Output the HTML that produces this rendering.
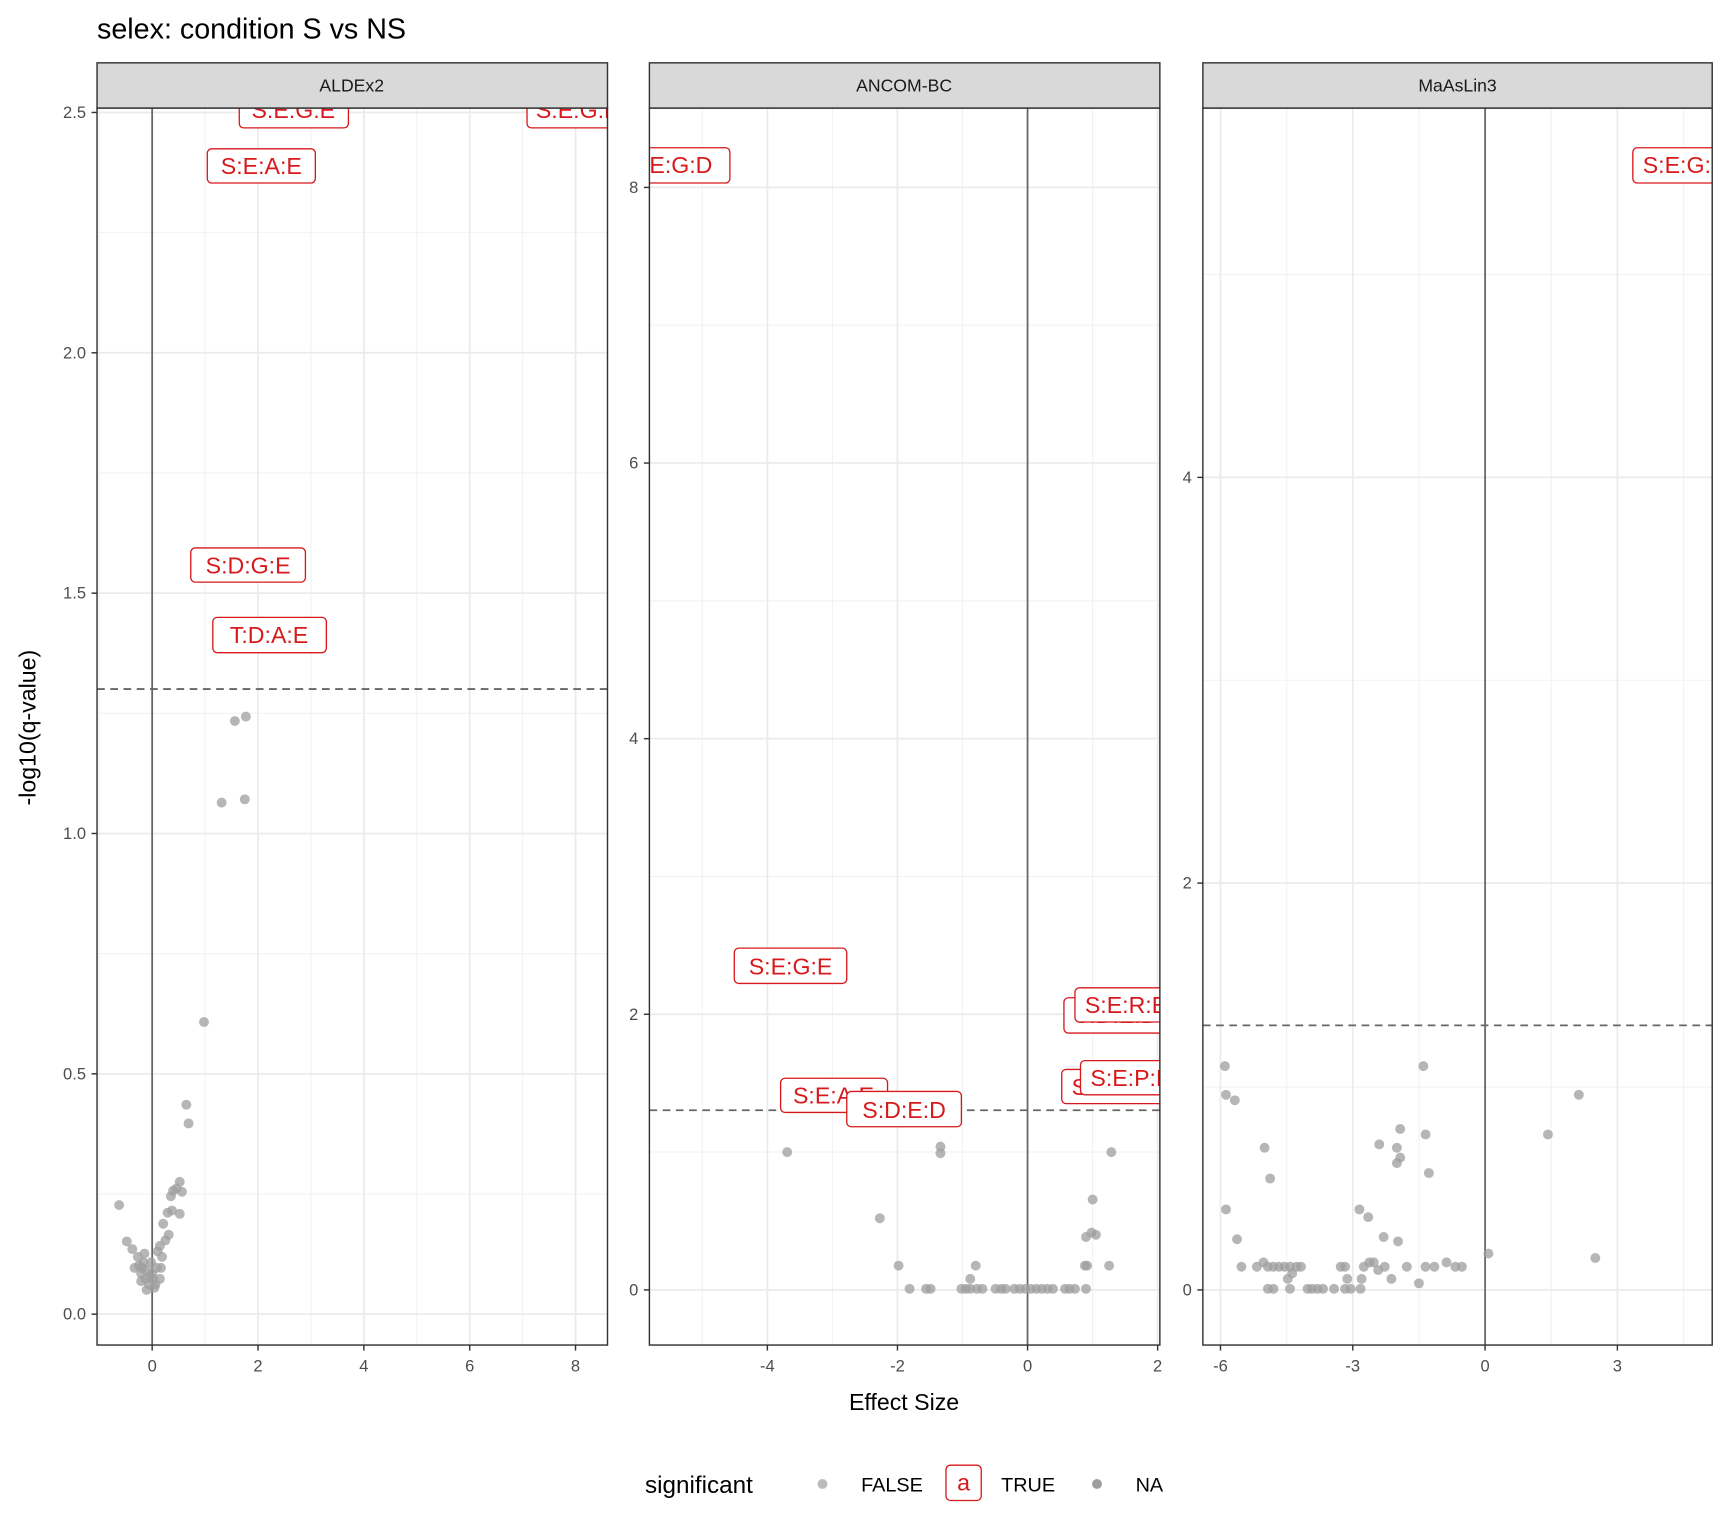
<!DOCTYPE html>
<html><head><meta charset="utf-8"><style>
html,body{margin:0;padding:0;background:#fff;}
svg{display:block;}
text{font-family:"Liberation Sans","DejaVu Sans",sans-serif;}
.tk{font-size:15px;fill:#4d4d4d;}
.lab rect{fill:#fff;stroke:#d7191c;stroke-width:1.2;}
.lab text{fill:#d7191c;font-size:21px;}
.g{stroke:#ebebeb;stroke-width:1.6;}
.gm{stroke:#f2f2f2;stroke-width:1;}
.p circle{fill:#9e9e9e;fill-opacity:0.75;}
</style></head><body>
<svg width="1728" height="1536" viewBox="0 0 1567.3 1393.2" xmlns="http://www.w3.org/2000/svg">
<defs>
<clipPath id="c1"><rect x="88" y="98" width="463" height="1122"/></clipPath>
<clipPath id="c2"><rect x="589" y="98" width="463" height="1122"/></clipPath>
<clipPath id="c3"><rect x="1091" y="98" width="462" height="1122"/></clipPath>
</defs>
<text x="88" y="35" font-size="26" fill="#000">selex: condition S vs NS</text>

<!-- Panel 1 -->
<g clip-path="url(#c1)">
<g class="gm">
<line x1="88" x2="551" y1="1083" y2="1083"/><line x1="88" x2="551" y1="865" y2="865"/><line x1="88" x2="551" y1="647" y2="647"/><line x1="88" x2="551" y1="429" y2="429"/><line x1="88" x2="551" y1="211" y2="211"/>
<line y1="98" y2="1220" x1="90" x2="90"/><line y1="98" y2="1220" x1="186" x2="186"/><line y1="98" y2="1220" x1="282" x2="282"/><line y1="98" y2="1220" x1="378" x2="378"/><line y1="98" y2="1220" x1="474" x2="474"/>
</g>
<g class="g">
<line x1="88" x2="551" y1="1192" y2="1192"/><line x1="88" x2="551" y1="974" y2="974"/><line x1="88" x2="551" y1="756" y2="756"/><line x1="88" x2="551" y1="538" y2="538"/><line x1="88" x2="551" y1="320" y2="320"/><line x1="88" x2="551" y1="102" y2="102"/>
<line y1="98" y2="1220" x1="138" x2="138"/><line y1="98" y2="1220" x1="234" x2="234"/><line y1="98" y2="1220" x1="330" x2="330"/><line y1="98" y2="1220" x1="426" x2="426"/><line y1="98" y2="1220" x1="522" x2="522"/>
</g>
<line x1="138" x2="138" y1="98" y2="1220" stroke="#666" stroke-width="1.6"/>
<line x1="88" x2="551" y1="625" y2="625" stroke="#666" stroke-width="1.6" stroke-dasharray="7,5"/>
<g class="p">
<circle cx="108" cy="1093" r="4.5"/><circle cx="213" cy="654" r="4.5"/><circle cx="223" cy="650" r="4.5"/><circle cx="201" cy="728" r="4.5"/><circle cx="222" cy="725" r="4.5"/><circle cx="185" cy="927" r="4.5"/><circle cx="169" cy="1002" r="4.5"/><circle cx="171" cy="1019" r="4.5"/><circle cx="160" cy="1078" r="4.5"/><circle cx="163" cy="1072" r="4.5"/><circle cx="157" cy="1080" r="4.5"/><circle cx="165" cy="1081" r="4.5"/><circle cx="156" cy="1098" r="4.5"/><circle cx="152" cy="1100" r="4.5"/><circle cx="163" cy="1101" r="4.5"/><circle cx="155" cy="1085" r="4.5"/><circle cx="115" cy="1126" r="4.5"/><circle cx="120" cy="1133" r="4.5"/><circle cx="125" cy="1140" r="4.5"/><circle cx="130" cy="1145" r="4.5"/><circle cx="122" cy="1150" r="4.5"/><circle cx="128" cy="1155" r="4.5"/><circle cx="132" cy="1160" r="4.5"/><circle cx="135" cy="1165" r="4.5"/><circle cx="140" cy="1168" r="4.5"/><circle cx="145" cy="1160" r="4.5"/><circle cx="142" cy="1150" r="4.5"/><circle cx="147" cy="1140" r="4.5"/><circle cx="150" cy="1125" r="4.5"/><circle cx="153" cy="1120" r="4.5"/><circle cx="145" cy="1130" r="4.5"/><circle cx="138" cy="1155" r="4.5"/><circle cx="133" cy="1170" r="4.5"/><circle cx="128" cy="1162" r="4.5"/><circle cx="126" cy="1148" r="4.5"/><circle cx="131" cy="1137" r="4.5"/><circle cx="137" cy="1145" r="4.5"/><circle cx="143" cy="1135" r="4.5"/><circle cx="141" cy="1165" r="4.5"/><circle cx="136" cy="1158" r="4.5"/><circle cx="148" cy="1110" r="4.5"/><circle cx="146" cy="1150" r="4.5"/><circle cx="133" cy="1152" r="4.5"/><circle cx="139" cy="1160" r="4.5"/><circle cx="129" cy="1150" r="4.5"/>
</g>
<g class="lab">
<rect x="217" y="84" width="99" height="32" rx="4"/><text x="266" y="107" text-anchor="middle">S:E:G:E</text>
<rect x="478" y="84" width="99" height="32" rx="4"/><text x="486" y="107">S:E:G:E</text>
<rect x="188" y="135" width="98" height="31" rx="4"/><text x="237" y="158" text-anchor="middle">S:E:A:E</text>
<rect x="173" y="497" width="104" height="31" rx="4"/><text x="225" y="520" text-anchor="middle">S:D:G:E</text>
<rect x="193" y="560" width="103" height="32" rx="4"/><text x="244" y="583" text-anchor="middle">T:D:A:E</text>
</g>
</g>
<rect x="88" y="98" width="463" height="1122" fill="none" stroke="#333" stroke-width="1.3"/>
<rect x="88" y="57" width="463" height="41" fill="#d9d9d9" stroke="#333" stroke-width="1.3"/>
<text x="319" y="83" text-anchor="middle" font-size="16" fill="#1a1a1a">ALDEx2</text>
<g class="tk" text-anchor="end">
<text x="78" y="1197">0.0</text><text x="78" y="979">0.5</text><text x="78" y="761">1.0</text><text x="78" y="543">1.5</text><text x="78" y="325">2.0</text><text x="78" y="107">2.5</text>
</g>
<g class="tk" text-anchor="middle">
<text x="138" y="1244">0</text><text x="234" y="1244">2</text><text x="330" y="1244">4</text><text x="426" y="1244">6</text><text x="522" y="1244">8</text>
</g>
<g stroke="#333" stroke-width="1.3">
<line x1="83" x2="88" y1="1192" y2="1192"/><line x1="83" x2="88" y1="974" y2="974"/><line x1="83" x2="88" y1="756" y2="756"/><line x1="83" x2="88" y1="538" y2="538"/><line x1="83" x2="88" y1="320" y2="320"/><line x1="83" x2="88" y1="102" y2="102"/>
<line x1="138" x2="138" y1="1220" y2="1225"/><line x1="234" x2="234" y1="1220" y2="1225"/><line x1="330" x2="330" y1="1220" y2="1225"/><line x1="426" x2="426" y1="1220" y2="1225"/><line x1="522" x2="522" y1="1220" y2="1225"/>
</g>

<!-- Panel 2 -->
<g clip-path="url(#c2)">
<g class="gm">
<line x1="589" x2="1052" y1="1045" y2="1045"/><line x1="589" x2="1052" y1="795" y2="795"/><line x1="589" x2="1052" y1="545" y2="545"/><line x1="589" x2="1052" y1="295" y2="295"/>
<line y1="98" y2="1220" x1="637" x2="637"/><line y1="98" y2="1220" x1="755" x2="755"/><line y1="98" y2="1220" x1="873" x2="873"/><line y1="98" y2="1220" x1="991" x2="991"/>
</g>
<g class="g">
<line x1="589" x2="1052" y1="1170" y2="1170"/><line x1="589" x2="1052" y1="920" y2="920"/><line x1="589" x2="1052" y1="670" y2="670"/><line x1="589" x2="1052" y1="420" y2="420"/><line x1="589" x2="1052" y1="170" y2="170"/>
<line y1="98" y2="1220" x1="696" x2="696"/><line y1="98" y2="1220" x1="814" x2="814"/><line y1="98" y2="1220" x1="1050" x2="1050"/>
</g>
<line x1="932" x2="932" y1="98" y2="1220" stroke="#666" stroke-width="1.6"/>
<line x1="589" x2="1052" y1="1007" y2="1007" stroke="#666" stroke-width="1.6" stroke-dasharray="7,5"/>
<g class="p">
<circle cx="714" cy="1045" r="4.5"/><circle cx="853" cy="1040" r="4.5"/><circle cx="853" cy="1046" r="4.5"/><circle cx="798" cy="1105" r="4.5"/><circle cx="815" cy="1148" r="4.5"/><circle cx="825" cy="1169" r="4.5"/><circle cx="840" cy="1169" r="4.5"/><circle cx="844" cy="1169" r="4.5"/><circle cx="876" cy="1169" r="4.5"/><circle cx="880" cy="1160" r="4.5"/><circle cx="885" cy="1148" r="4.5"/><circle cx="880" cy="1169" r="4.5"/><circle cx="886" cy="1169" r="4.5"/><circle cx="891" cy="1169" r="4.5"/><circle cx="872" cy="1169" r="4.5"/>
<circle cx="903" cy="1169" r="4.5"/><circle cx="908" cy="1169" r="4.5"/><circle cx="912" cy="1169" r="4.5"/><circle cx="920" cy="1169" r="4.5"/><circle cx="925" cy="1169" r="4.5"/><circle cx="930" cy="1169" r="4.5"/><circle cx="935" cy="1169" r="4.5"/><circle cx="940" cy="1169" r="4.5"/><circle cx="945" cy="1169" r="4.5"/><circle cx="950" cy="1169" r="4.5"/><circle cx="955" cy="1169" r="4.5"/><circle cx="966" cy="1169" r="4.5"/><circle cx="970" cy="1169" r="4.5"/><circle cx="975" cy="1169" r="4.5"/><circle cx="985" cy="1169" r="4.5"/>
<circle cx="984" cy="1148" r="4.5"/><circle cx="986" cy="1148" r="4.5"/><circle cx="985" cy="1122" r="4.5"/><circle cx="990" cy="1118" r="4.5"/><circle cx="994" cy="1120" r="4.5"/><circle cx="991" cy="1088" r="4.5"/><circle cx="1008" cy="1045" r="4.5"/><circle cx="1006" cy="1148" r="4.5"/>
</g>
<g class="lab">
<rect x="560" y="134" width="102" height="32" rx="4"/><text x="589" y="157">E:G:D</text>
<rect x="666" y="860" width="102" height="32" rx="4"/><text x="717" y="884" text-anchor="middle">S:E:G:E</text>
<rect x="708" y="978" width="97" height="31" rx="4"/><text x="756" y="1001" text-anchor="middle">S:E:A:E</text>
<rect x="768" y="990" width="104" height="32" rx="4"/><text x="820" y="1014" text-anchor="middle">S:D:E:D</text>
<rect x="965" y="905" width="100" height="32" rx="4"/><text x="974" y="928">S:D:E:D</text>
<rect x="975" y="896" width="100" height="31" rx="4"/><text x="984" y="919">S:E:R:E</text>
<rect x="963" y="970" width="100" height="31" rx="4"/><text x="972" y="993">S:D:E</text>
<rect x="980" y="962" width="100" height="31" rx="4"/><text x="989" y="985">S:E:P:E</text>
</g>
</g>
<rect x="589" y="98" width="463" height="1122" fill="none" stroke="#333" stroke-width="1.3"/>
<rect x="589" y="57" width="463" height="41" fill="#d9d9d9" stroke="#333" stroke-width="1.3"/>
<text x="820" y="83" text-anchor="middle" font-size="16" fill="#1a1a1a">ANCOM-BC</text>
<g class="tk" text-anchor="end">
<text x="579" y="1175">0</text><text x="579" y="925">2</text><text x="579" y="675">4</text><text x="579" y="425">6</text><text x="579" y="175">8</text>
</g>
<g class="tk" text-anchor="middle">
<text x="696" y="1244">-4</text><text x="814" y="1244">-2</text><text x="932" y="1244">0</text><text x="1050" y="1244">2</text>
</g>
<g stroke="#333" stroke-width="1.3">
<line x1="584" x2="589" y1="1170" y2="1170"/><line x1="584" x2="589" y1="920" y2="920"/><line x1="584" x2="589" y1="670" y2="670"/><line x1="584" x2="589" y1="420" y2="420"/><line x1="584" x2="589" y1="170" y2="170"/>
<line x1="696" x2="696" y1="1220" y2="1225"/><line x1="814" x2="814" y1="1220" y2="1225"/><line x1="932" x2="932" y1="1220" y2="1225"/><line x1="1050" x2="1050" y1="1220" y2="1225"/>
</g>

<!-- Panel 3 -->
<g clip-path="url(#c3)">
<g class="gm">
<line x1="1091" x2="1553" y1="986" y2="986"/><line x1="1091" x2="1553" y1="617" y2="617"/><line x1="1091" x2="1553" y1="249" y2="249"/>
<line y1="98" y2="1220" x1="1167" x2="1167"/><line y1="98" y2="1220" x1="1287" x2="1287"/><line y1="98" y2="1220" x1="1407" x2="1407"/><line y1="98" y2="1220" x1="1527" x2="1527"/>
</g>
<g class="g">
<line x1="1091" x2="1553" y1="1170" y2="1170"/><line x1="1091" x2="1553" y1="801" y2="801"/><line x1="1091" x2="1553" y1="433" y2="433"/>
<line y1="98" y2="1220" x1="1107" x2="1107"/><line y1="98" y2="1220" x1="1227" x2="1227"/><line y1="98" y2="1220" x1="1467" x2="1467"/>
</g>
<line x1="1347" x2="1347" y1="98" y2="1220" stroke="#666" stroke-width="1.6"/>
<line x1="1091" x2="1553" y1="930" y2="930" stroke="#666" stroke-width="1.6" stroke-dasharray="7,5"/>
<g class="p">
<circle cx="1111" cy="967" r="4.5"/><circle cx="1112" cy="993" r="4.5"/><circle cx="1120" cy="998" r="4.5"/><circle cx="1112" cy="1097" r="4.5"/><circle cx="1122" cy="1124" r="4.5"/><circle cx="1126" cy="1149" r="4.5"/><circle cx="1147" cy="1041" r="4.5"/><circle cx="1152" cy="1069" r="4.5"/><circle cx="1291" cy="967" r="4.5"/><circle cx="1293" cy="1029" r="4.5"/><circle cx="1296" cy="1064" r="4.5"/><circle cx="1270" cy="1024" r="4.5"/><circle cx="1267" cy="1041" r="4.5"/><circle cx="1270" cy="1050" r="4.5"/><circle cx="1267" cy="1055" r="4.5"/><circle cx="1251" cy="1038" r="4.5"/><circle cx="1255" cy="1122" r="4.5"/><circle cx="1233" cy="1097" r="4.5"/><circle cx="1241" cy="1104" r="4.5"/><circle cx="1268" cy="1126" r="4.5"/><circle cx="1404" cy="1029" r="4.5"/><circle cx="1432" cy="993" r="4.5"/><circle cx="1350" cy="1137" r="4.5"/><circle cx="1447" cy="1141" r="4.5"/><circle cx="1287" cy="1164" r="4.5"/><circle cx="1262" cy="1160" r="4.5"/>
<circle cx="1140" cy="1149" r="4.5"/><circle cx="1146" cy="1145" r="4.5"/><circle cx="1150" cy="1149" r="4.5"/><circle cx="1155" cy="1149" r="4.5"/><circle cx="1160" cy="1149" r="4.5"/><circle cx="1165" cy="1149" r="4.5"/><circle cx="1170" cy="1149" r="4.5"/><circle cx="1176" cy="1149" r="4.5"/><circle cx="1168" cy="1160" r="4.5"/><circle cx="1172" cy="1155" r="4.5"/><circle cx="1170" cy="1169" r="4.5"/><circle cx="1150" cy="1169" r="4.5"/><circle cx="1155" cy="1169" r="4.5"/><circle cx="1186" cy="1169" r="4.5"/><circle cx="1190" cy="1169" r="4.5"/><circle cx="1195" cy="1169" r="4.5"/><circle cx="1200" cy="1169" r="4.5"/><circle cx="1210" cy="1169" r="4.5"/><circle cx="1220" cy="1169" r="4.5"/><circle cx="1225" cy="1169" r="4.5"/><circle cx="1234" cy="1169" r="4.5"/><circle cx="1180" cy="1149" r="4.5"/><circle cx="1216" cy="1149" r="4.5"/><circle cx="1220" cy="1149" r="4.5"/><circle cx="1222" cy="1160" r="4.5"/><circle cx="1237" cy="1149" r="4.5"/><circle cx="1242" cy="1145" r="4.5"/><circle cx="1246" cy="1145" r="4.5"/><circle cx="1250" cy="1152" r="4.5"/><circle cx="1256" cy="1149" r="4.5"/><circle cx="1276" cy="1149" r="4.5"/><circle cx="1293" cy="1149" r="4.5"/><circle cx="1301" cy="1149" r="4.5"/><circle cx="1312" cy="1145" r="4.5"/><circle cx="1320" cy="1149" r="4.5"/><circle cx="1326" cy="1149" r="4.5"/><circle cx="1235" cy="1160" r="4.5"/>
</g>
<g class="lab">
<rect x="1481" y="134" width="100" height="32" rx="4"/><text x="1490" y="157">S:E:G:E</text>
</g>
</g>
<rect x="1091" y="98" width="462" height="1122" fill="none" stroke="#333" stroke-width="1.3"/>
<rect x="1091" y="57" width="462" height="41" fill="#d9d9d9" stroke="#333" stroke-width="1.3"/>
<text x="1322" y="83" text-anchor="middle" font-size="16" fill="#1a1a1a">MaAsLin3</text>
<g class="tk" text-anchor="end">
<text x="1081" y="1175">0</text><text x="1081" y="806">2</text><text x="1081" y="438">4</text>
</g>
<g class="tk" text-anchor="middle">
<text x="1107" y="1244">-6</text><text x="1227" y="1244">-3</text><text x="1347" y="1244">0</text><text x="1467" y="1244">3</text>
</g>
<g stroke="#333" stroke-width="1.3">
<line x1="1086" x2="1091" y1="1170" y2="1170"/><line x1="1086" x2="1091" y1="801" y2="801"/><line x1="1086" x2="1091" y1="433" y2="433"/>
<line x1="1107" x2="1107" y1="1220" y2="1225"/><line x1="1227" x2="1227" y1="1220" y2="1225"/><line x1="1347" x2="1347" y1="1220" y2="1225"/><line x1="1467" x2="1467" y1="1220" y2="1225"/>
</g>

<!-- axis titles -->
<text x="820" y="1279" text-anchor="middle" font-size="21" fill="#000">Effect Size</text>
<text transform="translate(32,660) rotate(-90)" text-anchor="middle" font-size="21" fill="#000">-log10(q-value)</text>

<!-- legend -->
<text x="585" y="1354" font-size="22" fill="#000">significant</text>
<circle cx="746" cy="1346" r="4.5" fill="#9e9e9e" fill-opacity="0.7"/>
<text x="781" y="1353" font-size="18" fill="#000">FALSE</text>
<rect x="858" y="1329" width="32" height="32" rx="4" fill="#fff" stroke="#d7191c" stroke-width="1.2"/>
<text x="874" y="1352" text-anchor="middle" font-size="21" fill="#d7191c">a</text>
<text x="908" y="1353" font-size="18" fill="#000">TRUE</text>
<circle cx="995" cy="1346" r="4.5" fill="#9e9e9e"/>
<text x="1030" y="1353" font-size="18" fill="#000">NA</text>
</svg>
</body></html>
